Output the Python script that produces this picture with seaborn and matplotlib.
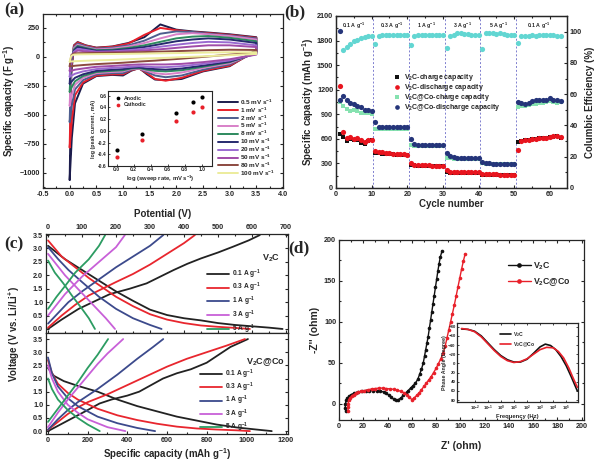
import matplotlib
matplotlib.use("Agg")
import matplotlib.pyplot as plt
import seaborn as sns
from matplotlib.ticker import MultipleLocator, FixedLocator, NullFormatter, FuncFormatter

sns.set_style("ticks")
plt.rcParams['font.family'] = ['Liberation Sans', 'DejaVu Sans']
plt.rcParams['font.weight'] = 'bold'
plt.rcParams['axes.labelweight'] = 'bold'
plt.rcParams['mathtext.fontset'] = 'custom'
plt.rcParams['mathtext.rm'] = 'Liberation Sans:bold'
plt.rcParams['mathtext.it'] = 'Liberation Sans:bold'
plt.rcParams['mathtext.bf'] = 'Liberation Sans:bold'
plt.rcParams['mathtext.default'] = 'rm'
plt.rcParams['xtick.direction'] = 'in'
plt.rcParams['ytick.direction'] = 'in'
plt.rcParams['axes.linewidth'] = 0.9
plt.rcParams['xtick.major.size'] = 2.5
plt.rcParams['ytick.major.size'] = 2.5
plt.rcParams['xtick.minor.size'] = 1.5
plt.rcParams['ytick.minor.size'] = 1.5
plt.rcParams['xtick.major.pad'] = 2
plt.rcParams['ytick.major.pad'] = 2

TICK = 5.2
LAB = 7
LEG = 5.0

# ---------------- (a) CV data ----------------
scan_labels = ["0.5", "1", "2", "5", "8", "10", "20", "50", "80", "100"]
scan_colors = ["#1c1c4c", "#e8202a", "#4e5e8e", "#d880c8", "#2e8a5e",
               "#262a6e", "#9a6ad0", "#a04ca8", "#8c4a40", "#ecec9c"]
v_up = [0.0, 0.03, 0.08, 0.15, 0.3, 0.5, 0.8, 1.1, 1.4, 1.7, 2.0, 2.3, 2.6, 3.0, 3.5]
v_dn = [3.5, 3.0, 2.5, 2.1, 1.8, 1.6, 1.45, 1.3, 1.15, 1.0, 0.8, 0.5, 0.25, 0.1, 0.04, 0.0]
up_05 = [-1060, -150, 100, 128, 100, 80, 90, 120, 170, 280, 235, 220, 210, 195, 170]
up_1 = [-780, -100, 95, 125, 98, 78, 88, 115, 190, 250, 230, 215, 205, 190, 165]
up_2 = [-560, -60, 85, 115, 92, 72, 80, 100, 140, 200, 220, 215, 200, 185, 160]
up_5 = [-420, -40, 75, 105, 85, 65, 72, 90, 120, 160, 195, 205, 195, 180, 150]
up_8 = [-300, -30, 65, 95, 78, 58, 62, 78, 100, 130, 160, 175, 180, 165, 135]
up_10 = [-230, -20, 55, 85, 70, 52, 55, 68, 85, 110, 135, 150, 160, 150, 120]
up_20 = [-170, -10, 45, 70, 60, 45, 48, 58, 70, 88, 105, 120, 130, 125, 100]
up_50 = [-120, 0, 35, 55, 48, 40, 42, 48, 56, 66, 78, 90, 100, 100, 85]
up_80 = [-80, 15, 30, 32, 33, 34, 36, 38, 42, 46, 50, 54, 58, 62, 60]
up_100 = [-40, 10, 20, 22, 23, 24, 25, 27, 29, 31, 33, 35, 38, 40, 40]
dn_05 = [60, -80, -125, -190, -200, -195, -150, -95, -120, -160, -155, -165, -230, -400, -700, -1060]
dn_1 = [50, -75, -120, -180, -205, -190, -140, -100, -115, -150, -150, -160, -220, -330, -550, -780]
dn_2 = [45, -65, -110, -160, -175, -160, -130, -100, -110, -140, -140, -150, -200, -280, -420, -560]
dn_5 = [40, -55, -95, -135, -150, -140, -120, -100, -105, -125, -130, -140, -180, -240, -330, -420]
dn_8 = [35, -45, -85, -115, -125, -120, -110, -95, -100, -115, -120, -130, -165, -210, -260, -300]
dn_10 = [30, -40, -75, -100, -110, -105, -100, -90, -95, -105, -110, -120, -150, -180, -210, -230]
dn_20 = [25, -30, -60, -80, -88, -88, -85, -80, -85, -90, -95, -105, -125, -145, -160, -170]
dn_50 = [20, -20, -45, -60, -65, -65, -65, -65, -68, -72, -78, -85, -100, -110, -118, -120]
dn_80 = [40, 20, 0, -15, -25, -32, -36, -40, -45, -50, -55, -62, -70, -76, -80, -80]
dn_100 = [25, 15, 5, -2, -8, -11, -13, -16, -19, -22, -26, -30, -34, -37, -39, -40]
cv_up = [up_05, up_1, up_2, up_5, up_8, up_10, up_20, up_50, up_80, up_100]
cv_dn = [dn_05, dn_1, dn_2, dn_5, dn_8, dn_10, dn_20, dn_50, dn_80, dn_100]

log_rate = [0.0, 0.3, 0.7, 0.9, 1.0]
log_anodic = [-0.32, -0.05, 0.31, 0.50, 0.57]
log_cathodic = [-0.44, -0.16, 0.17, 0.33, 0.41]

# ---------------- (b) rate data ----------------
cycles = list(range(1, 64))
v2c_chg = [660, 620, 575, 600, 590, 580, 550, 540, 570, 580,
           430, 425, 420, 420, 415, 410, 405, 405, 400, 400,
           280, 275, 272, 270, 270, 268, 268, 268, 265, 265,
           190, 188, 186, 185, 185, 184, 183, 182, 182, 180,
           160, 160, 158, 158, 157, 157, 156, 156, 155, 155,
           560, 570, 580, 590, 595, 600, 605, 610, 615, 625, 625, 630, 615]
v2c_dis = [1250, 680, 610, 620, 600, 615, 580, 560, 580, 590,
           450, 440, 435, 430, 425, 420, 415, 410, 410, 408,
           310, 285, 280, 278, 276, 275, 274, 273, 272, 272,
           215, 200, 198, 196, 195, 194, 193, 192, 191, 190,
           175, 168, 166, 165, 165, 164, 163, 163, 162, 162,
           470, 570, 580, 590, 595, 600, 605, 610, 615, 625, 630, 632, 620]
co_chg = [1050, 1000, 960, 940, 950, 940, 920, 910, 920, 900,
          720, 715, 715, 718, 720, 720, 722, 722, 724, 725,
          520, 518, 518, 518, 518, 518, 518, 518, 518, 518,
          370, 362, 360, 358, 356, 355, 354, 353, 352, 352,
          300, 292, 290, 290, 289, 289, 288, 288, 288, 288,
          990, 1000, 1005, 1010, 1020, 1030, 1035, 1040, 1045, 1060, 1050, 1040, 1055]
co_dis = [1080, 1120, 1080, 1040, 1020, 1000, 990, 950, 950, 940,
          800, 745, 740, 740, 740, 740, 740, 740, 740, 740,
          600, 535, 530, 528, 527, 526, 525, 525, 524, 524,
          430, 385, 375, 372, 370, 368, 366, 365, 364, 362,
          320, 305, 300, 298, 296, 295, 294, 293, 292, 292,
          1050, 1040, 1030, 1040, 1060, 1080, 1070, 1070, 1080, 1100, 1070, 1070, 1060]
ce_first = [100.5]
ce = [88.5, 90, 92, 93.8, 94.8, 95.9, 96.4, 96.9, 96.9,
      92.2, 97.5, 98, 98, 98, 98, 98, 98, 98, 98,
      91.7, 97.5, 98, 98, 98, 98, 98, 98, 98, 98,
      89.6, 97, 98, 99, 99, 98.5, 98.5, 98, 98, 98,
      89, 99, 99, 99, 98.5, 99, 98.5, 98, 98, 98,
      92.7, 97, 97.5, 97.5, 98, 97.5, 98, 98, 98, 98, 98, 97.5, 97.5]
rate_names = ["0.1 A g$^{-1}$", "0.3 A g$^{-1}$", "1 A g$^{-1}$", "3 A g$^{-1}$", "5 A g$^{-1}$", "0.1 A g$^{-1}$"]
rate_pos = [5, 15.5, 25.5, 35.5, 45.5, 57]
rate_bounds = [10.5, 20.5, 30.5, 40.5, 50.5]

# ---------------- (c) charge/discharge ----------------
c_rates = ["0.1 A g$^{-1}$", "0.3 A g$^{-1}$", "1 A g$^{-1}$", "3 A g$^{-1}$", "5 A g$^{-1}$"]
c_colors = ["#222222", "#e8262e", "#3c4a8c", "#c860d8", "#2c9c62"]
top_chg_01 = [(0, 0), (40, 0.35), (90, 0.75), (140, 1.05), (182, 1.3), (240, 1.5), (290, 1.7), (330, 1.95),
              (370, 2.2), (410, 2.43), (450, 2.63), (500, 2.85), (545, 3.07), (590, 3.3), (623, 3.5)]
top_dis_01 = [(0, 3.1), (50, 2.6), (100, 2.2), (150, 1.8), (200, 1.4), (250, 1.05), (300, 0.72), (350, 0.52),
              (400, 0.4), (450, 0.32), (500, 0.22), (550, 0.15), (600, 0.1), (650, 0.05), (690, 0.0)]
top_chg_03 = [(0, 0.05), (40, 0.5), (80, 0.9), (120, 1.25), (160, 1.5), (200, 1.75), (250, 2.05), (300, 2.4),
              (350, 2.8), (400, 3.2), (432, 3.5)]
top_dis_03 = [(0, 3.3), (40, 2.7), (80, 2.3), (120, 1.9), (160, 1.55), (200, 1.2), (250, 0.85), (300, 0.55),
              (350, 0.35), (400, 0.22), (450, 0.13), (500, 0.08), (550, 0.04), (594, 0.0)]
top_chg_1 = [(0, 0.2), (30, 0.6), (60, 1.0), (100, 1.4), (150, 1.85), (200, 2.3), (250, 2.7), (300, 3.1), (339, 3.5)]
top_dis_1 = [(0, 3.05), (30, 2.6), (60, 2.2), (100, 1.75), (150, 1.2), (200, 0.75), (250, 0.4), (300, 0.15), (334, 0.0)]
top_chg_3 = [(0, 0.5), (25, 0.9), (50, 1.3), (100, 1.95), (150, 2.5), (200, 3.05), (226, 3.5)]
top_dis_3 = [(0, 2.8), (25, 2.4), (50, 2.0), (80, 1.6), (110, 1.2), (140, 0.8), (170, 0.4), (197, 0.0)]
top_chg_5 = [(0, 0.75), (25, 1.2), (50, 1.6), (80, 2.1), (120, 2.6), (150, 3.1), (168, 3.5)]
top_dis_5 = [(0, 2.55), (20, 2.1), (45, 1.7), (70, 1.25), (100, 0.75), (120, 0.4), (138, 0.0)]
bot_chg_01 = [(0, 0), (50, 0.2), (100, 0.4), (150, 0.6), (200, 0.8), (260, 1.05), (320, 1.2), (400, 1.35),
              (460, 1.5), (520, 1.75), (580, 2.0), (650, 2.2), (720, 2.35), (800, 2.6), (860, 2.9), (920, 3.2), (1008, 3.5)]
bot_dis_01 = [(0, 2.4), (30, 2.1), (80, 1.9), (150, 1.72), (250, 1.5), (350, 1.2), (450, 0.95), (550, 0.75),
              (650, 0.55), (750, 0.4), (850, 0.25), (950, 0.14), (1050, 0.06), (1128, 0.0)]
bot_chg_03 = [(0, 0.05), (50, 0.35), (100, 0.65), (150, 0.9), (200, 1.1), (300, 1.4), (400, 1.75), (500, 2.1),
              (600, 2.45), (700, 2.75), (800, 3.0), (900, 3.25), (993, 3.5)]
bot_dis_03 = [(0, 2.7), (20, 2.2), (50, 1.8), (100, 1.45), (150, 1.2), (250, 0.85), (350, 0.6), (450, 0.42),
              (550, 0.28), (650, 0.17), (750, 0.1), (850, 0.06), (950, 0.03), (1018, 0.0)]
bot_chg_1 = [(0, 0.05), (50, 0.45), (100, 0.8), (150, 1.1), (250, 1.6), (350, 2.15), (450, 2.75), (530, 3.2), (581, 3.5)]
bot_dis_1 = [(0, 2.8), (20, 2.2), (50, 1.7), (100, 1.25), (150, 0.95), (250, 0.55), (350, 0.3), (450, 0.12), (540, 0.0)]
bot_chg_3 = [(0, 0.15), (50, 0.7), (100, 1.2), (150, 1.65), (200, 2.1), (250, 2.55), (300, 2.95), (379, 3.5)]
bot_dis_3 = [(0, 2.5), (20, 2.0), (50, 1.5), (100, 1.0), (150, 0.7), (200, 0.45), (300, 0.15), (390, 0.0)]
bot_chg_5 = [(0, 0.35), (50, 0.85), (100, 1.35), (150, 1.85), (200, 2.4), (250, 2.9), (303, 3.5)]
bot_dis_5 = [(0, 2.0), (20, 1.6), (50, 1.2), (100, 0.8), (150, 0.5), (200, 0.25), (261, 0.0)]
top_curves = [(top_chg_01, top_dis_01), (top_chg_03, top_dis_03), (top_chg_1, top_dis_1),
              (top_chg_3, top_dis_3), (top_chg_5, top_dis_5)]
bot_curves = [(bot_chg_01, bot_dis_01), (bot_chg_03, bot_dis_03), (bot_chg_1, bot_dis_1),
              (bot_chg_3, bot_dis_3), (bot_chg_5, bot_dis_5)]

# ---------------- (d) EIS ----------------
v2c_zre = [5.5, 5.2, 5.3, 6, 7, 8.5, 10, 12, 14, 16, 19, 22, 25, 28, 31, 34, 37, 39, 41, 43, 45, 47,
           49, 51, 53, 55, 57, 59, 61, 63, 65, 66.5, 68, 69.5, 70.5, 71.5, 72.5, 73.5, 74.5, 75.5, 76.5,
           77.5, 78.5, 79.5, 80.5, 81.5, 82.5, 83.5, 85]
v2c_zim = [-9, -5, 0, 4, 7, 9, 11, 12.5, 13.5, 14.5, 15, 16, 16, 16, 16, 15.5, 14, 12.5, 10.5, 8, 5.5, 4,
           5, 7, 10, 13, 16, 19, 22, 25, 30, 36, 42, 50, 58, 66, 74, 82, 92, 102, 112,
           122, 132, 142, 152, 162, 171, 179, 187]
co_zre = [7.5, 7.3, 7.5, 8, 9, 10.5, 12, 14, 16, 18, 21, 24, 27, 30, 33, 36, 39, 42, 45, 48, 51, 54, 56, 58, 60,
          62, 64, 66, 68, 70, 72, 74, 76, 78, 80, 82, 84, 86, 87.5, 89, 90.5, 92, 93.5, 95, 96.5, 98, 99.5,
          101, 102.5, 104]
co_zim = [-9, -4, 0, 4, 7, 9, 11, 12.5, 14, 15, 16, 17, 18, 18.5, 19, 19, 18.5, 18, 17.5, 16.5, 15, 13, 11, 8, 5,
          7, 10, 13, 17, 21, 25, 29, 33, 38, 43, 49, 55, 62, 70, 80, 90, 100, 110, 120, 131, 142, 153,
          164, 174, 183]
bode_logf_v2c = [-3.0, -2.5, -2.0, -1.5, -1.0, -0.5, 0.0, 0.5, 1.0, 1.5, 2.0, 2.5, 3.0, 3.4, 3.8, 4.2, 4.6, 5.0, 5.4, 5.85]
bode_ph_v2c = [-75, -74, -70, -60, -45, -30, -17, -8, -3, -3, -9, -22, -36, -42, -39, -30, -15, 5, 30, 60]
bode_logf_co = [-3.0, -2.5, -2.0, -1.5, -1.0, -0.5, 0.0, 0.5, 1.0, 1.5, 2.0, 2.5, 3.0, 3.5, 4.0, 4.4, 4.8, 5.2, 5.5, 5.85]
bode_ph_co = [-76, -74, -69, -58, -43, -28, -15, -6, -2, -4, -10, -20, -30, -35, -34, -26, -12, 10, 30, 52]

# ======================= figure =======================
W, H = 601, 467
fig = plt.figure(figsize=(W / 100, H / 100), dpi=100)


def box(x0, y0, x1, y1):
    return [x0 / W, 1 - y1 / H, (x1 - x0) / W, (y1 - y0) / H]


def curve(ax, xs, ys, color, lw=1.3, label=None, **kw):
    sns.lineplot(x=xs, y=ys, ax=ax, sort=False, estimator=None, color=color,
                 lw=lw, label=label, legend=False, **kw)


def style_ticks(ax):
    ax.tick_params(which='both', labelsize=TICK, top=True, right=True, width=0.8)


# ---- (a)
axa = fig.add_axes(box(43, 14, 283, 188))
for lab, col, up, dn in zip(scan_labels, scan_colors, cv_up, cv_dn):
    curve(axa, v_up + v_dn, up + dn, col, lw=1.4, label=lab + " mV s$^{-1}$")
axa.set_xlim(-0.5, 4.0)
axa.set_ylim(-1130, 370)
axa.xaxis.set_major_locator(MultipleLocator(0.5))
axa.xaxis.set_minor_locator(MultipleLocator(0.25))
axa.yaxis.set_major_locator(FixedLocator([-1000, -750, -500, -250, 0, 250]))
axa.yaxis.set_minor_locator(MultipleLocator(125))
axa.xaxis.set_major_formatter(FuncFormatter(lambda v, p: f"{v:.1f}"))
style_ticks(axa)
axa.set_xlabel("Potential (V)", fontsize=LAB, labelpad=8)
axa.set_ylabel("Specific capacity (F g$^{-1}$)", fontsize=LAB, labelpad=2)
axa.legend(loc='upper left', bbox_to_anchor=(0.72, 0.535), fontsize=4.6, frameon=False,
           handlelength=3.0, handletextpad=0.35, labelspacing=-0.22, borderaxespad=0.0)

axi = fig.add_axes(box(108, 91, 212, 166))
axi.set_facecolor('white')
sns.scatterplot(x=log_rate, y=log_anodic, ax=axi, color='black', s=9, linewidth=0, label='Anodic', legend=False)
sns.scatterplot(x=log_rate, y=log_cathodic, ax=axi, color='#e8202a', s=9, linewidth=0, label='Cathodic', legend=False)
axi.set_xlim(-0.1, 1.12)
axi.set_ylim(-0.6, 0.68)
axi.xaxis.set_major_locator(MultipleLocator(0.2))
axi.yaxis.set_major_locator(MultipleLocator(0.2))
axi.xaxis.set_major_formatter(FuncFormatter(lambda v, p: f"{v:.1f}"))
axi.yaxis.set_major_formatter(FuncFormatter(lambda v, p: f"{v:.1f}"))
axi.tick_params(labelsize=3.6, length=1.5, pad=1, width=0.6)
for s in axi.spines.values():
    s.set_linewidth(0.8)
axi.set_xlabel("log (sweep rate, mV s$^{-1}$)", fontsize=4.2, labelpad=1)
axi.set_ylabel("log (peak current , mA)", fontsize=3.8, labelpad=1)
axi.legend(loc='upper left', fontsize=3.8, frameon=False, handletextpad=0.1, labelspacing=0.3,
           borderaxespad=0.5, markerscale=0.9)

# ---- (b)
axb = fig.add_axes(box(336, 16, 567, 188))
for xb in rate_bounds:
    axb.axvline(xb, color='#7f7fcf', ls=(0, (2, 2)), lw=0.7, zorder=0)
sns.scatterplot(x=cycles, y=v2c_chg, ax=axb, color='#111111', marker='s', s=11, linewidth=0,
                label="V$_2$C-charge capacity", legend=False, zorder=3)
sns.scatterplot(x=cycles, y=v2c_dis, ax=axb, color='#e8141e', marker='o', s=14, linewidth=0,
                label="V$_2$C-discharge capacity", legend=False, zorder=4)
sns.scatterplot(x=cycles, y=co_chg, ax=axb, color='#86e2b0', marker='s', s=11, linewidth=0,
                label="V$_2$C@Co-charge capacity", legend=False, zorder=3)
sns.scatterplot(x=cycles, y=co_dis, ax=axb, color='#25357a', marker='o', s=14, linewidth=0,
                label="V$_2$C@Co-discharge capacity", legend=False, zorder=4)
axb.set_xlim(0, 64.8)
axb.set_ylim(0, 2100)
axb.xaxis.set_major_locator(MultipleLocator(10))
axb.xaxis.set_minor_locator(MultipleLocator(5))
axb.yaxis.set_major_locator(MultipleLocator(300))
axb.yaxis.set_minor_locator(MultipleLocator(150))
axb.tick_params(which='both', labelsize=TICK, top=True, right=False, width=0.8)
axb.set_xlabel("Cycle number", fontsize=LAB, labelpad=1)
axb.set_ylabel("Specific capacity (mAh g$^{-1}$)", fontsize=LAB, labelpad=1)
for nm, xp in zip(rate_names, rate_pos):
    axb.text(xp, 1985, nm, fontsize=3.8, ha='center', va='center')
axb.legend(loc='upper left', bbox_to_anchor=(0.22, 0.69), fontsize=LEG, frameon=False,
           handletextpad=0.1, labelspacing=-0.15, borderaxespad=0.0, markerscale=0.9)
axb2 = axb.twinx()
sns.scatterplot(x=cycles[1:], y=ce, ax=axb2, color='#62d6d2', marker='o', s=14, linewidth=0, legend=False)
sns.scatterplot(x=cycles[:1], y=ce_first, ax=axb2, color='#25357a', marker='o', s=14, linewidth=0, legend=False)
axb2.set_ylim(0, 110)
axb2.yaxis.set_major_locator(FixedLocator([0, 20, 40, 60, 80, 100]))
axb2.yaxis.set_minor_locator(MultipleLocator(10))
axb2.tick_params(which='both', labelsize=TICK, direction='in', width=0.8)
axb2.set_ylabel("Columbic Efficiency (%)", fontsize=LAB, labelpad=2)

# ---- (c)
axc1 = fig.add_axes(box(46, 234, 288, 333))
axc2 = fig.add_axes(box(46, 333, 288, 434))
for (chg, dis), col, nm in zip(top_curves, c_colors, c_rates):
    curve(axc1, [p[0] for p in chg], [p[1] for p in chg], col, lw=1.3, label=nm)
    curve(axc1, [p[0] for p in dis], [p[1] for p in dis], col, lw=1.3)
for (chg, dis), col, nm in zip(bot_curves, c_colors, c_rates):
    curve(axc2, [p[0] for p in chg], [p[1] for p in chg], col, lw=1.3, label=nm)
    curve(axc2, [p[0] for p in dis], [p[1] for p in dis], col, lw=1.3)
axc1.set_xlim(-6, 706)
axc1.set_ylim(-0.15, 3.54)
axc2.set_xlim(-10, 1210)
axc2.set_ylim(-0.11, 3.73)
for ax in (axc1, axc2):
    ax.yaxis.set_major_locator(MultipleLocator(0.5))
    ax.yaxis.set_major_formatter(FuncFormatter(lambda v, p: f"{v:.1f}"))
    ax.tick_params(which='both', labelsize=TICK, right=True, width=0.8)
axc1.xaxis.set_major_locator(MultipleLocator(100))
axc1.xaxis.set_minor_locator(MultipleLocator(50))
axc1.tick_params(which='both', top=True, labeltop=True, bottom=True, labelbottom=False)
axc2.xaxis.set_major_locator(MultipleLocator(200))
axc2.xaxis.set_minor_locator(MultipleLocator(100))
axc2.tick_params(which='both', top=False, bottom=True)
axc2.set_xlabel("Specific capacity (mAh g$^{-1}$)", fontsize=LAB, labelpad=2)
fig.text(14 / W, 1 - 334 / H, "Voltage (V vs. Li/Li$^{+}$)", rotation=90, fontsize=LAB,
         fontweight='bold', ha='center', va='center')
axc1.text(0.93, 0.76, "V$_2$C", transform=axc1.transAxes, fontsize=6.5, ha='center', va='center')
axc2.text(0.905, 0.715, "V$_2$C@Co", transform=axc2.transAxes, fontsize=6.5, ha='center', va='center')
axc1.legend(loc='upper left', bbox_to_anchor=(0.655, 0.69), fontsize=4.8, frameon=False,
            handlelength=3.3, handletextpad=0.4, labelspacing=0.08, borderaxespad=0.0)
axc2.legend(loc='upper left', bbox_to_anchor=(0.625, 0.685), fontsize=4.8, frameon=False,
            handlelength=3.3, handletextpad=0.4, labelspacing=0.0, borderaxespad=0.0)

# ---- (d)
axd = fig.add_axes(box(339, 240, 584, 420))
curve(axd, v2c_zre, v2c_zim, '#111111', lw=1.0, marker='o', ms=2.6, mew=0, label="V$_2$C")
curve(axd, co_zre, co_zim, '#e8202a', lw=1.0, marker='o', ms=2.6, mew=0, label="V$_2$C@Co")
axd.set_xlim(0, 202)
axd.set_ylim(-20, 200)
axd.xaxis.set_major_locator(MultipleLocator(20))
axd.xaxis.set_minor_locator(MultipleLocator(10))
axd.yaxis.set_major_locator(MultipleLocator(50))
axd.yaxis.set_minor_locator(MultipleLocator(25))
style_ticks(axd)
axd.set_xlabel("Z' (ohm)", fontsize=LAB + 0.5, labelpad=8)
axd.set_ylabel("-Z'' (ohm)", fontsize=LAB + 0.5, labelpad=3)
axd.legend(loc='upper right', bbox_to_anchor=(0.98, 0.93), fontsize=6.3, frameon=False,
           handlelength=2.6, handletextpad=0.3, labelspacing=0.5, markerscale=1.3)

axdi = fig.add_axes(box(457, 323, 578, 402))
axdi.set_facecolor('white')
curve(axdi, bode_logf_v2c, bode_ph_v2c, '#111111', lw=1.2, label="V$_2$C")
curve(axdi, bode_logf_co, bode_ph_co, '#e8202a', lw=1.2, label="V$_2$C@Co")
axdi.set_xlim(-3.35, 5.9)
axdi.set_ylim(84, -88)
axdi.xaxis.set_major_locator(FixedLocator([-2, -1, 0, 1, 2, 3, 4, 5]))
axdi.xaxis.set_major_formatter(FuncFormatter(lambda v, p: "10$^{%d}$" % int(round(v))))
axdi.yaxis.set_major_locator(FixedLocator([-80, -60, -40, -20, 0, 20, 40, 60, 80]))
axdi.tick_params(labelsize=3.2, length=1.5, pad=1, width=0.6, top=True, right=True)
axdi.set_xlabel("Frequency (Hz)", fontsize=4.2, labelpad=1)
axdi.set_ylabel("Phase Angle (Degree)", fontsize=3.8, labelpad=1)
axdi.legend(loc='upper left', bbox_to_anchor=(0.32, 0.97), fontsize=3.6, frameon=False,
            handlelength=2.2, handletextpad=0.3, labelspacing=0.2)

# panel labels
for txt, x, y in [("(a)", 4, 2), ("(b)", 284, 4), ("(c)", 4, 236), ("(d)", 288, 240)]:
    fig.text(x / W, 1 - y / H, txt, fontsize=12.5, fontweight='bold', family='Liberation Serif',
             ha='left', va='top')

fig.savefig("out.png", dpi=100)
